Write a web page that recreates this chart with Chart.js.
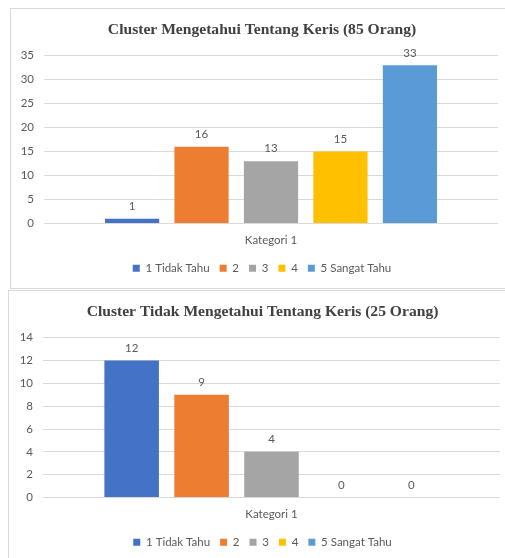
<!DOCTYPE html>
<html>
<head>
<meta charset="utf-8">
<script src="https://cdn.jsdelivr.net/npm/chart.js@4"></script>
<style>
  html, body { margin: 0; padding: 0; background: #ffffff; }
  body { width: 505px; height: 558px; position: relative; overflow: hidden; }
  .frame { position: absolute; box-sizing: border-box; border: 1px solid #d9d9d9; background: #fff; }
  #frame1 { left: 10px; top: 8px; width: 530px; height: 281px; }
  #frame2 { left: 8px; top: 290px; width: 530px; height: 290px; }
  canvas { display: block; }
</style>
</head>
<body>
<div class="frame" id="frame1"><canvas id="chart1" width="514" height="279"></canvas></div>
<div class="frame" id="frame2"><canvas id="chart2" width="514" height="271"></canvas></div>
<script>
// Answer categories (legend entries) shared by both charts
const categories = ['1 Tidak Tahu', '2', '3', '4', '5 Sangat Tahu'];
const groupLabel = ['Kategori 1'];
const seriesColors = ['#4472C4', '#ED7D31', '#A5A5A5', '#FFC000', '#5B9BD5'];

// Respondent counts per answer
const knowValues = [1, 16, 13, 15, 33];     // Cluster Mengetahui (85 orang)
const notKnowValues = [12, 9, 4, 0, 0];     // Cluster Tidak Mengetahui (25 orang)

const titleKnow = 'Cluster Mengetahui Tentang Keris (85 Orang)';
const titleNotKnow = 'Cluster Tidak Mengetahui Tentang Keris (25 Orang)';

const textColor = '#595959';
const gridColor = '#d9d9d9';
const bodyFont = 'Lato';
const bodySize = 11.5;

// Draws each bar's value centred above it
const valueLabels = {
  id: 'valueLabels',
  afterDatasetsDraw(chart) {
    const ctx = chart.ctx;
    ctx.save();
    ctx.font = bodySize + 'px ' + bodyFont;
    ctx.fillStyle = textColor;
    ctx.textAlign = 'center';
    ctx.textBaseline = 'middle';
    chart.data.datasets.forEach((ds, i) => {
      const meta = chart.getDatasetMeta(i);
      meta.data.forEach((bar, j) => {
        ctx.fillText(String(ds.data[j]), bar.x, bar.y - 12.5);
      });
    });
    ctx.restore();
  }
};

function buildChart(canvasId, title, values, yMax, yStep, yWidth, rightPad, rightGap) {
  const datasets = categories.map((name, i) => ({
    label: name,
    data: [values[i]],
    backgroundColor: seriesColors[i],
    borderWidth: 0,
    categoryPercentage: 0.765,
    barPercentage: 0.78,
    yAxisID: 'y'
  }));
  return new Chart(document.getElementById(canvasId), {
    type: 'bar',
    data: { labels: groupLabel, datasets },
    plugins: [valueLabels],
    options: {
      responsive: false,
      animation: false,
      devicePixelRatio: 1,
      layout: { padding: { left: 0, right: rightPad, top: 0, bottom: 4 } },
      plugins: {
        title: {
          display: true,
          text: title,
          color: '#404040',
          font: { family: 'Liberation Serif', size: 15.6, weight: 'bold' },
          padding: { top: 12, bottom: 16 }
        },
        legend: {
          position: 'bottom',
          labels: {
            color: textColor,
            font: { family: bodyFont, size: bodySize },
            boxWidth: 7,
            boxHeight: 7,
            padding: 10
          }
        },
        tooltip: { enabled: false }
      },
      scales: {
        x: {
          grid: { display: false, drawTicks: false },
          border: { display: false },
          ticks: { color: textColor, font: { family: bodyFont, size: bodySize }, padding: 10 },
          afterFit(scale) { scale.height = 29; }
        },
        y: {
          min: 0,
          max: yMax,
          ticks: { stepSize: yStep, color: textColor, font: { family: bodyFont, size: bodySize }, padding: 10 },
          grid: { color: gridColor, drawTicks: false },
          border: { display: false },
          afterFit(scale) { scale.width = yWidth; }
        },
        // empty margin on the right of the plot area
        yRight: {
          position: 'right',
          min: 0,
          max: yMax,
          ticks: { display: false },
          grid: { display: false, drawTicks: false },
          border: { display: false },
          afterFit(scale) { scale.width = rightGap; }
        }
      }
    }
  });
}

buildChart('chart1', titleKnow, knowValues, 35, 5, 33, 12, 15);
buildChart('chart2', titleNotKnow, notKnowValues, 14, 2, 34, 7, 16);
</script>
</body>
</html>
